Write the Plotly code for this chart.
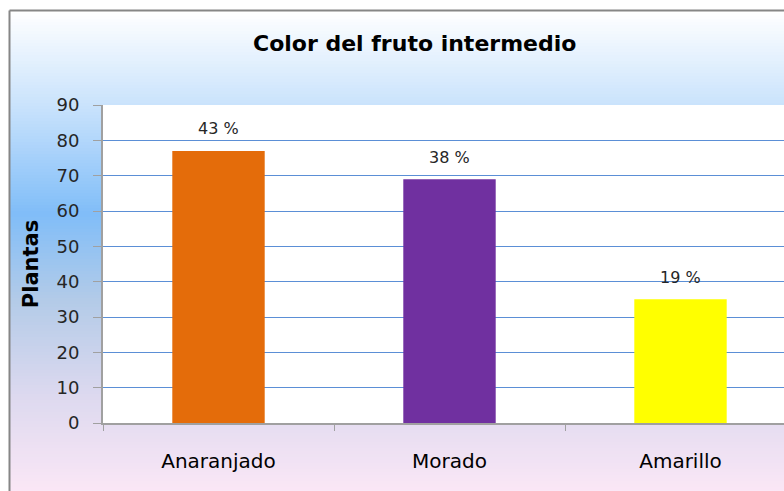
import plotly.graph_objects as go

categorias = ["Anaranjado", "Morado", "Amarillo"]
plantas = [77, 69, 35]
porcentajes = ["43 %", "38 %", "19 %"]
colores = ["#e46c0a", "#7030a0", "#ffff00"]
y_ticks = [0, 10, 20, 30, 40, 50, 60, 70, 80, 90]

W, H = 784, 491
L, T, B = 103, 105, 68
plot_w, plot_h = W - L, H - T - B


def px_to_paper(x, y):
    return (x - L) / plot_w, (H - B - y) / plot_h


def hex_rgb(h):
    h = h.lstrip("#")
    return tuple(int(h[i:i + 2], 16) for i in (0, 2, 4))


# fondo degradado (azul arriba, lila abajo)
stops = [
    (0.0, "#ffffff"),
    (0.2, "#c8e2fc"),
    (0.42, "#80bdf8"),
    (0.6, "#b3cbe8"),
    (0.8, "#ddd9ef"),
    (1.0, "#fbe7f6"),
]


def grad_color(t):
    for (t0, c0), (t1, c1) in zip(stops, stops[1:]):
        if t0 <= t <= t1:
            f = (t - t0) / (t1 - t0)
            a, b = hex_rgb(c0), hex_rgb(c1)
            return "rgb(%d,%d,%d)" % tuple(round(a[i] + (b[i] - a[i]) * f) for i in range(3))
    return stops[-1][1]


shapes = []
top_y, bot_y, step = 10, H, 3
y = top_y
while y < bot_y:
    x0, y0 = px_to_paper(10, y)
    x1, y1 = px_to_paper(W, min(y + step + 1, bot_y))
    shapes.append(dict(
        type="rect", xref="paper", yref="paper", x0=x0, x1=x1, y0=y1, y1=y0,
        fillcolor=grad_color((y - top_y) / (bot_y - top_y)), line=dict(width=0), layer="below",
    ))
    y += step

# área de trazado blanca
shapes.append(dict(type="rect", xref="paper", yref="paper", x0=0, x1=1, y0=0, y1=1,
                   fillcolor="#ffffff", line=dict(width=0), layer="below"))

# borde exterior del gráfico
bx, by = px_to_paper(9.5, 10.5)
_, by_bottom = px_to_paper(0, H)
bx_right, _ = px_to_paper(W, 0)
shapes.append(dict(type="line", xref="paper", yref="paper", x0=bx, x1=bx, y0=by_bottom, y1=by,
                   line=dict(color="#868686", width=2), layer="below"))
shapes.append(dict(type="line", xref="paper", yref="paper", x0=bx, x1=bx_right, y0=by, y1=by,
                   line=dict(color="#868686", width=2), layer="below"))

fig = go.Figure(
    go.Bar(
        x=categorias,
        y=plantas,
        marker=dict(color=colores, line=dict(width=0)),
        width=0.4,
        hoverinfo="skip",
    )
)

for cat, val, txt in zip(categorias, plantas, porcentajes):
    fig.add_annotation(
        x=cat, y=val, text=txt, showarrow=False, yshift=22,
        font=dict(family="DejaVu Sans", size=16, color="#262626"),
    )

tx, ty = px_to_paper(414, 43)
fig.add_annotation(
    x=tx, y=ty, xref="paper", yref="paper", xanchor="center", yanchor="middle",
    text="<b>Color del fruto intermedio</b>",
    showarrow=False, font=dict(family="DejaVu Sans", size=22, color="#000000"),
)

fig.update_layout(
    width=W,
    height=H,
    margin=dict(l=L, r=0, t=T, b=B),
    paper_bgcolor="#ffffff",
    plot_bgcolor="#ffffff",
    showlegend=False,
    shapes=shapes,
    font=dict(family="DejaVu Sans", color="#262626"),
)
fig.update_xaxes(
    range=[-0.5, -0.5 + plot_w / 231],
    tickson="boundaries",
    ticks="outside",
    ticklen=6,
    tickcolor="#a0a0a0",
    showline=True,
    linecolor="#a0a0a0",
    linewidth=2,
    showgrid=False,
    tickfont=dict(size=20, color="#000000"),
    ticklabelstandoff=19,
)
fig.update_yaxes(
    range=[0, 90],
    tickvals=y_ticks,
    ticks="outside",
    ticklen=8,
    tickcolor="#a0a0a0",
    showline=True,
    linecolor="#a0a0a0",
    linewidth=2,
    gridcolor="#5b8fd6",
    gridwidth=1,
    zeroline=False,
    tickfont=dict(size=18, color="#262626"),
    ticklabelstandoff=10,
    title=dict(text="<b>Plantas</b>", font=dict(size=21, color="#000000"), standoff=12),
)

# sin el margen por defecto del <body>, el gráfico ocupa toda la ventana
fig.write_html(
    "out.html",
    config={"displayModeBar": False},
    post_script="document.body.style.margin = '0';",
)
